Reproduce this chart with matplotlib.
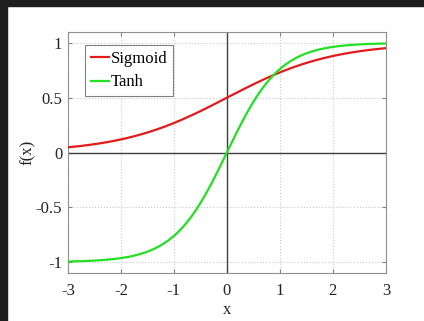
import matplotlib
matplotlib.use('Agg')

import matplotlib.pyplot as plt
from matplotlib.patches import Rectangle
import numpy as np

# === 数据 ===
x_range = (-3, 3)
x_ticks = [-3, -2, -1, 0, 1, 2, 3]
y_ticks = [-1, -0.5, 0, 0.5, 1]
y_tick_labels = ['-1', '-0.5', '0', '0.5', '1']
x_tick_labels = ['-3', '-2', '-1', '0', '1', '2', '3']
series_names = ['Sigmoid', 'Tanh']

x = np.linspace(x_range[0], x_range[1], 400)
sigmoid = 1 / (1 + np.exp(-x))
tanh = np.tanh(x)

plt.rcParams['font.family'] = ['Liberation Serif', 'DejaVu Serif']

fig = plt.figure(figsize=(4.24, 3.21), dpi=100)
ax = fig.add_axes([0.160, 0.1495, 0.750, 0.7508])

# 截图的黑色边框
fig.patches.append(Rectangle((0, 1 - 6 / 321), 1, 6 / 321, transform=fig.transFigure,
                             color='#1e1e1e', zorder=10))
fig.patches.append(Rectangle((0, 0), 7 / 424, 1, transform=fig.transFigure,
                             color='#1e1e1e', zorder=10))

ax.grid(True, linestyle=':', color='#c8c8c8', linewidth=0.8, zorder=0.5)
ax.axhline(0, color='#404040', linewidth=1.0, zorder=2)
ax.axvline(0, color='#404040', linewidth=1.0, zorder=2)

ax.plot(x, sigmoid, color='#e41a1a', linewidth=1.6, label=series_names[0], zorder=3)
ax.plot(x, tanh, color='#22e022', linewidth=1.6, label=series_names[1], zorder=3)

ax.set_xlim(*x_range)
ax.set_ylim(-1.1, 1.1)
ax.set_xticks(x_ticks)
ax.set_xticklabels(x_tick_labels)
ax.set_yticks(y_ticks)
ax.set_yticklabels(y_tick_labels)
ax.tick_params(direction='in', top=True, right=True, length=3, labelsize=12,
               color='#808080', labelcolor='#222222', pad=4)
ax.tick_params(axis='x', pad=7)
for s in ax.spines.values():
    s.set_color('#909090')
    s.set_linewidth(0.8)

ax.set_xlabel('x', fontsize=12, color='#222222', labelpad=2)
ax.set_ylabel('f(x)', fontsize=12, color='#222222', labelpad=0)

leg = ax.legend(loc='upper left', bbox_to_anchor=(0.053, 0.946), fontsize=12,
                handlelength=1.1, handletextpad=0.1, borderpad=0.35,
                labelspacing=0.45, borderaxespad=0, fancybox=False, framealpha=1)
leg.get_frame().set_edgecolor('#808080')
leg.get_frame().set_linewidth(0.8)

fig.savefig('out.png', dpi=100)
